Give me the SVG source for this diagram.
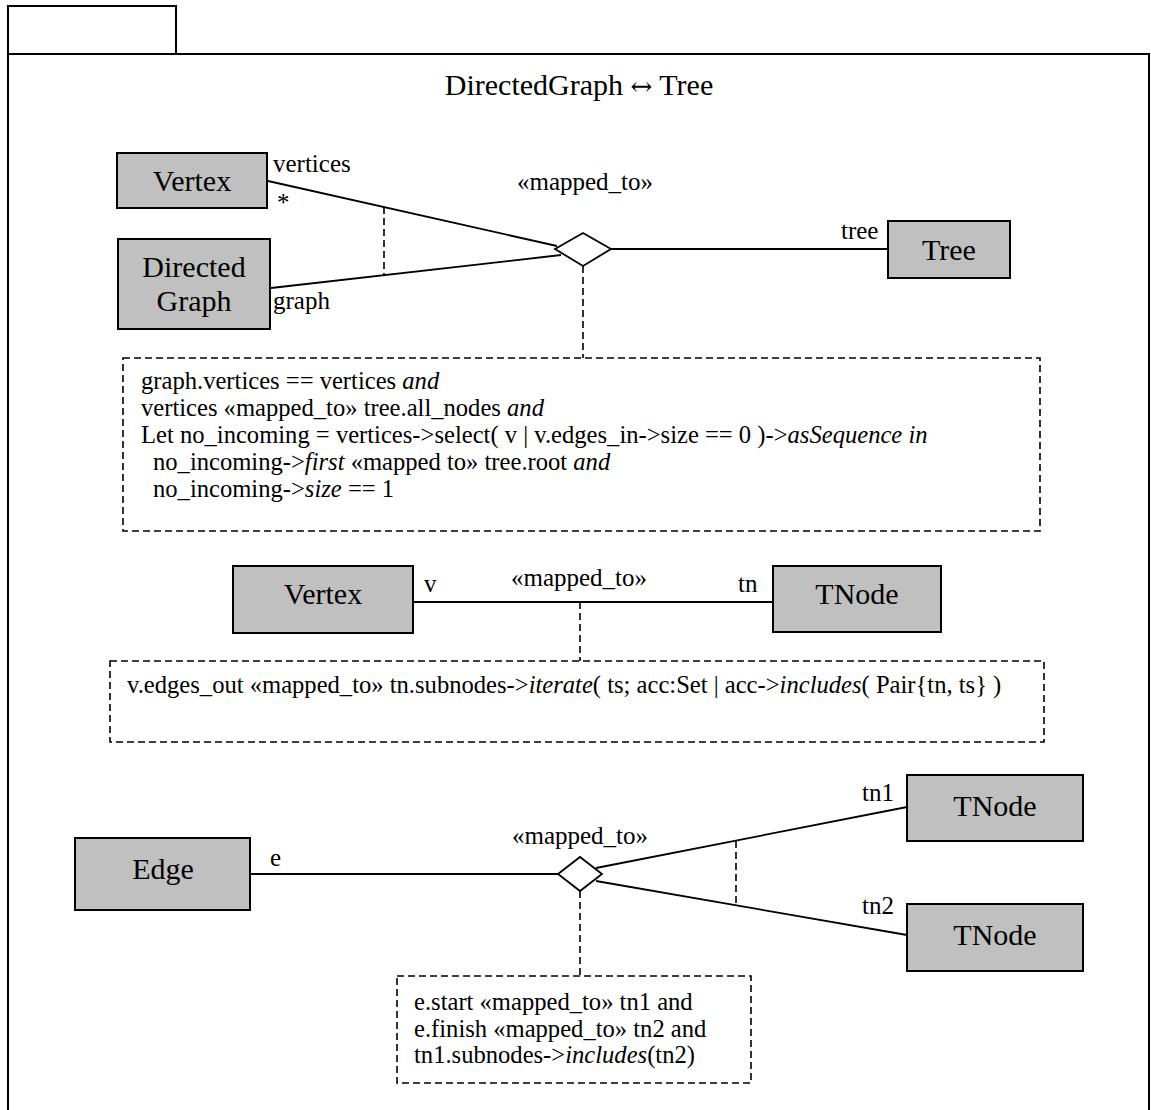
<svg xmlns="http://www.w3.org/2000/svg" width="1151" height="1110" viewBox="0 0 1151 1110">
<style>
text { font-family: "Liberation Serif", "Times New Roman", serif; fill: #000; }
.node rect { fill: #c0c0c0; stroke: #000; stroke-width: 2; }
.nl { font-size: 30px; text-anchor: middle; }
.role { font-size: 25px; }
.st { font-size: 25px; text-anchor: middle; }
.nt { font-size: 24.6px; }
.line { stroke: #000; stroke-width: 1.8; fill: none; }
.dash { stroke: #000; stroke-width: 1.6; fill: none; stroke-dasharray: 7 4; }
.dia { fill: #fff; stroke: #000; stroke-width: 1.8; }
.note rect { fill: #fff; stroke: #000; stroke-width: 1.6; stroke-dasharray: 7 4; }
.frame { fill: none; stroke: #000; stroke-width: 2; }
</style>
<rect width="1151" height="1110" fill="#fff"/>
<g id="frame">
  <rect class="frame" x="8" y="6" width="168" height="48"/>
  <path class="frame" d="M8,54 H1149 V1120 H8 Z"/>
  <text x="579" y="95" font-size="30" text-anchor="middle">DirectedGraph <tspan font-family="DejaVu Serif, serif" font-size="26">↔</tspan> Tree</text>
</g>
<g id="connectors">
  <!-- section 1 -->
  <line class="line" x1="268" y1="181" x2="557" y2="246"/>
  <line class="line" x1="271" y1="288" x2="561" y2="255"/>
  <line class="dash" x1="384" y1="207" x2="384" y2="275"/>
  <line class="line" x1="611" y1="249" x2="888" y2="249"/>
  <polygon class="dia" points="555,249 583,233 611,249 583,266"/>
  <line class="dash" x1="583" y1="266" x2="583" y2="358"/>
  <text class="role" x="273" y="172">vertices</text>
  <text class="role" x="277" y="211">*</text>
  <text class="role" x="273" y="309">graph</text>
  <text class="st" x="585" y="190">«mapped_to»</text>
  <text class="role" x="841" y="239">tree</text>
  <!-- section 2 -->
  <line class="line" x1="413" y1="602" x2="773" y2="602"/>
  <line class="dash" x1="580" y1="602" x2="580" y2="661"/>
  <text class="role" x="424" y="592">v</text>
  <text class="st" x="579" y="586">«mapped_to»</text>
  <text class="role" x="738" y="592">tn</text>
  <!-- section 3 -->
  <line class="line" x1="250" y1="874" x2="558" y2="874"/>
  <line class="line" x1="596" y1="868" x2="907" y2="807"/>
  <line class="line" x1="596" y1="881" x2="907" y2="935"/>
  <line class="dash" x1="736" y1="841" x2="736" y2="905"/>
  <polygon class="dia" points="558,874 580,857 602,874 580,891"/>
  <line class="dash" x1="580" y1="891" x2="580" y2="976"/>
  <text class="role" x="270" y="866">e</text>
  <text class="st" x="580" y="844">«mapped_to»</text>
  <text class="role" x="862" y="801">tn1</text>
  <text class="role" x="862" y="914">tn2</text>
</g>
<g id="vertex1" class="node">
  <rect x="117" y="153" width="150" height="55"/>
  <text class="nl" x="192" y="191">Vertex</text>
</g>
<g id="directedgraph" class="node">
  <rect x="118" y="239" width="152" height="90"/>
  <text class="nl" x="194" y="277">Directed</text>
  <text class="nl" x="194" y="311">Graph</text>
</g>
<g id="tree" class="node">
  <rect x="888" y="221" width="122" height="57"/>
  <text class="nl" x="949" y="260">Tree</text>
</g>
<g id="note1" class="note">
  <rect x="123" y="358" width="917" height="173"/>
  <text class="nt" x="141" y="389">graph.vertices == vertices <tspan font-style="italic">and</tspan></text>
  <text class="nt" x="141" y="416">vertices «mapped_to» tree.all_nodes <tspan font-style="italic">and</tspan></text>
  <text class="nt" x="141" y="443">Let no_incoming = vertices-&gt;select( v | v.edges_in-&gt;size == 0 )-&gt;<tspan font-style="italic">asSequence in</tspan></text>
  <text class="nt" x="153" y="470">no_incoming-&gt;<tspan font-style="italic">first</tspan> «mapped to» tree.root <tspan font-style="italic">and</tspan></text>
  <text class="nt" x="153" y="497">no_incoming-&gt;<tspan font-style="italic">size</tspan> == 1</text>
</g>
<g id="vertex2" class="node">
  <rect x="233" y="566" width="180" height="67"/>
  <text class="nl" x="323" y="604">Vertex</text>
</g>
<g id="tnode" class="node">
  <rect x="773" y="566" width="168" height="66"/>
  <text class="nl" x="857" y="604">TNode</text>
</g>
<g id="note2" class="note">
  <rect x="110" y="661" width="934" height="81"/>
  <text class="nt" x="127" y="693">v.edges_out «mapped_to» tn.subnodes-&gt;<tspan font-style="italic">iterate</tspan>( ts; acc:Set | acc-&gt;<tspan font-style="italic">includes</tspan>( Pair{tn, ts} )</text>
</g>
<g id="edge" class="node">
  <rect x="75" y="838" width="175" height="72"/>
  <text class="nl" x="163" y="879">Edge</text>
</g>
<g id="tnode1" class="node">
  <rect x="907" y="775" width="176" height="66"/>
  <text class="nl" x="995" y="816">TNode</text>
</g>
<g id="tnode2" class="node">
  <rect x="907" y="904" width="176" height="67"/>
  <text class="nl" x="995" y="945">TNode</text>
</g>
<g id="note3" class="note">
  <rect x="397" y="976" width="354" height="107"/>
  <text class="nt" x="414" y="1010">e.start «mapped_to» tn1 and</text>
  <text class="nt" x="414" y="1037">e.finish «mapped_to» tn2 and</text>
  <text class="nt" x="414" y="1063">tn1.subnodes-&gt;<tspan font-style="italic">includes</tspan>(tn2)</text>
</g>
</svg>
